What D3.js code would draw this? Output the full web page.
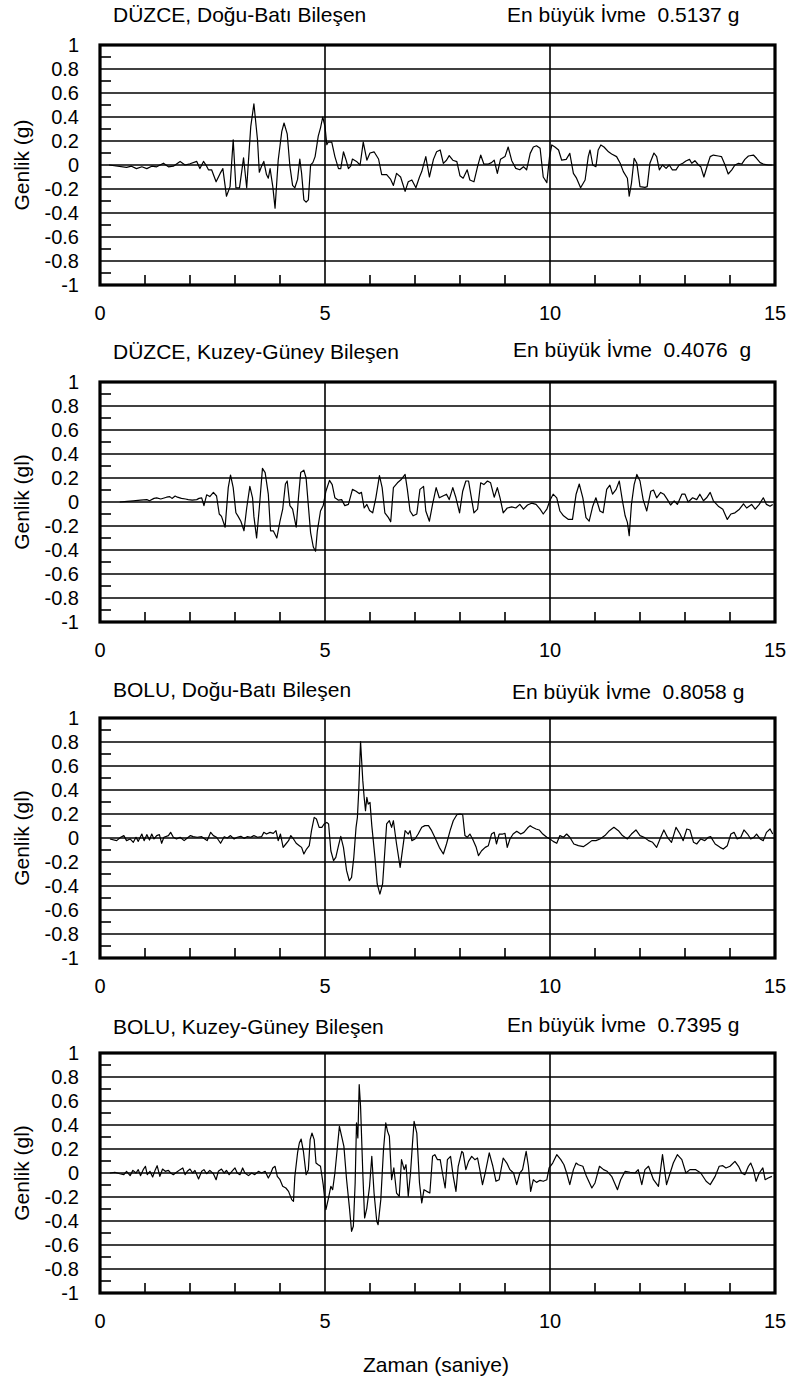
<!DOCTYPE html>
<html>
<head>
<meta charset="utf-8">
<script src="https://cdn.jsdelivr.net/npm/d3@7"></script>
<style>
html,body{margin:0;padding:0;background:#fff;}
svg{display:block;}
text{font-family:"Liberation Sans",Arial,Helvetica,sans-serif;fill:#000;white-space:pre;}
</style>
</head>
<body>
<svg id="chart" width="788" height="1379"></svg>
<script>
// ---------- data ----------
const panelTitles = ["DÜZCE, Doğu-Batı Bileşen","DÜZCE, Kuzey-Güney Bileşen","BOLU, Doğu-Batı Bileşen","BOLU, Kuzey-Güney Bileşen"];
const peakTitles = ["En büyük İvme  0.5137 g","En büyük İvme  0.4076  g","En büyük İvme  0.8058 g","En büyük İvme  0.7395 g"];
const yAxisTitles = ["Genlik (g)","Genlik (gl)","Genlik (gl)","Genlik (gl)"];
const xAxisTitle = "Zaman (saniye)";
const xTickLabels = [0,5,10,15];
const yTickLabels = [1,0.8,0.6,0.4,0.2,0,-0.2,-0.4,-0.6,-0.8,-1];
const xMinorTicks = [1,2,3,4,6,7,8,9,11,12,13,14];
const yMinorTicks = [0.9,0.7,0.5,0.3,0.1,-0.1,-0.3,-0.5,-0.7,-0.9];

// [time (s), acceleration (g)]
const duzceEW = [[0.2,0],[0.59,-0.02],[0.70,-0.01],[0.81,-0.03],[0.93,-0.015],[1.04,-0.03],[1.15,-0.01],[1.26,-0.015],[1.41,0.015],[1.52,-0.015],[1.63,-0.01],[1.78,0.03],[1.89,0],[2.0,0.01],[2.15,0.03],[2.22,-0.03],[2.30,0.03],
[2.37,-0.01],[2.41,-0.04],[2.48,-0.04],[2.58,-0.14],[2.67,-0.07],[2.73,-0.03],[2.81,-0.26],[2.89,-0.18],[2.96,0.21],[3.02,-0.19],[3.10,-0.19],[3.19,0.06],[3.26,-0.19],[3.35,0.32],[3.42,0.51],[3.50,0.21],[3.54,-0.06],[3.59,-0.01],[3.64,0.03],[3.70,-0.08],[3.74,-0.11],[3.78,-0.03],[3.84,-0.18],[3.89,-0.36],[3.96,0.04],[4.04,0.28],[4.09,0.35],[4.16,0.26],[4.22,-0.01],[4.28,-0.17],[4.33,-0.19],[4.39,-0.12],[4.44,0.05],[4.48,-0.07],[4.53,-0.29],[4.58,-0.31],[4.63,-0.29],[4.68,0],[4.73,0.02],[4.78,0.07],[4.85,0.24],[4.90,0.31],[4.95,0.40],[5.00,0.32],[5.04,0.17],[5.07,0.19],[5.15,0.19],[5.22,0.07],[5.30,-0.03],[5.35,-0.03],[5.41,0.11],[5.47,0.04],[5.52,-0.03],[5.57,-0.01],[5.61,0.05],[5.70,0.03],[5.78,0],[5.85,0.19],[5.93,0.04],[6.00,0.10],[6.09,0.11],[6.19,0.05],[6.26,-0.08],[6.37,-0.08],[6.46,-0.12],[6.52,-0.17],[6.59,-0.07],
[6.68,-0.10],[6.78,-0.22],[6.85,-0.14],[6.93,-0.125],[7.02,-0.19],[7.10,-0.10],[7.15,-0.055],[7.24,0.07],[7.32,-0.10],[7.41,0.047],[7.48,0.11],[7.56,0.125],[7.63,0.014],[7.70,0.04],[7.76,0.078],[7.84,0.04],[7.93,0.028],[8.00,-0.09],[8.07,-0.11],[8.16,-0.04],[8.22,-0.125],[8.31,-0.14],[8.39,-0.014],[8.46,0.083],[8.53,0.008],[8.63,0.008],[8.70,0.02],[8.76,0.04],[8.83,-0.07],[8.90,0.047],[9.00,0.07],[9.07,0.15],[9.15,0.036],[9.24,-0.028],[9.33,-0.04],[9.41,-0.014],[9.48,-0.04],[9.56,0.097],[9.63,0.15],[9.70,0.16],[9.78,0.14],[9.85,-0.10],[9.93,-0.147],[9.99,0.07],[10.04,0.167],[10.11,0.15],[10.19,0.125],[10.26,0.04],[10.36,0.047],[10.44,0.097],[10.52,-0.07],[10.59,-0.11],[10.68,-0.19],[10.78,-0.125],[10.85,0.07],[10.89,0.125],[10.95,0],[11.02,-0.014],[11.07,0.125],[11.13,0.167],[11.20,0.15],[11.30,0.11],[11.37,0.092],[11.48,0.07],[11.56,0.014],[11.63,-0.055],[11.72,-0.11],[11.76,-0.26],[11.81,-0.153],[11.87,0.056],[11.93,0.014],[12.00,-0.18],[12.11,-0.186],[12.16,-0.18],[12.22,0.014],[12.31,0.10],[12.37,0.07],[12.43,-0.04],[12.50,0],[12.58,-0.028],[12.65,0],[12.72,-0.04],[12.80,-0.04],[12.87,0],[12.95,0.014],[13.02,0.033],[13.10,0.047],[13.15,0.014],[13.22,0.036],[13.30,0],[13.35,-0.014],[13.42,-0.10],[13.50,0],[13.56,0.07],[13.63,0.083],[13.74,0.075],[13.81,0.07],[13.89,0],[13.96,-0.075],[14.04,-0.04],[14.11,0],[14.19,0.014],[14.26,0.008],[14.33,0.047],[14.41,0.075],[14.52,0.083],[14.59,0.056],[14.67,0.02],[14.74,0.008],[14.85,0],[14.93,0]];

const duzceNS = [[0.44,0],[0.6,0.005],[0.74,0.01],[0.9,0.015],[1.04,0.02],[1.1,0.01],[1.2,0.03],[1.26,0.035],[1.35,0.025],[1.48,0.04],[1.55,0.045],[1.6,0.03],[1.67,0.05],[1.72,0.04],[1.81,0.03],[1.9,0.025],[1.96,0.02],[2.05,0.015],[2.15,0.02],[2.2,0.03],[2.26,0.035],[2.31,-0.03],[2.37,0.06],[2.44,0.045],[2.52,0.08],[2.59,0.05],[2.65,-0.10],[2.70,-0.12],[2.78,-0.21],[2.85,0.12],[2.90,0.225],[2.96,0.12],[3.02,-0.09],[3.07,-0.12],[3.13,-0.16],[3.20,-0.24],[3.26,-0.05],[3.33,0.13],[3.39,0.035],[3.42,-0.12],[3.48,-0.30],[3.54,-0.05],[3.61,0.28],[3.67,0.245],[3.74,0.065],[3.79,-0.24],[3.85,-0.24],[3.93,-0.30],[4.00,-0.16],[4.06,-0.06],[4.12,0.15],[4.16,0.175],[4.22,-0.03],[4.28,-0.06],[4.36,-0.21],[4.41,0.035],[4.46,0.245],[4.53,0.265],[4.58,0.20],[4.63,-0.03],[4.68,-0.255],[4.74,-0.375],[4.79,-0.41],[4.83,-0.24],[4.90,-0.075],[4.96,-0.03],[5.02,0.09],[5.10,0.18],[5.16,0.145],[5.22,0.035],[5.30,0.015],[5.37,0.02],[5.44,-0.03],[5.52,-0.02],[5.61,0.105],[5.69,0.09],[5.76,0.07],[5.81,0.08],[5.87,-0.05],[5.93,-0.02],[5.99,-0.07],[6.06,-0.09],[6.13,0.035],[6.21,0.22],[6.27,0.12],[6.33,-0.09],[6.41,-0.13],[6.46,-0.165],[6.52,0.12],[6.61,0.16],[6.70,0.19],[6.78,0.23],[6.83,0.105],[6.89,-0.075],[6.96,-0.115],[7.04,-0.10],[7.11,0.105],[7.19,0.13],[7.24,-0.075],[7.32,-0.16],[7.39,-0.02],[7.47,0.12],[7.54,0.035],[7.62,0.05],[7.70,0.065],[7.76,0.02],[7.84,0.12],[7.91,0.035],[7.99,-0.09],[8.06,0.09],[8.13,0.175],[8.19,0.175],[8.26,0.02],[8.31,-0.09],[8.39,-0.06],[8.46,0.16],[8.53,0.145],[8.61,0.175],[8.68,0.16],[8.76,0.04],[8.83,0.12],[8.89,0.035],[8.96,-0.09],[9.05,-0.05],[9.15,-0.04],[9.24,-0.05],[9.33,-0.02],[9.41,-0.06],[9.50,-0.025],[9.59,-0.01],[9.69,-0.02],[9.78,-0.06],[9.85,-0.10],[9.93,-0.06],[10.00,0.015],[10.07,0.065],[10.15,0.035],[10.22,-0.075],[10.30,-0.115],[10.41,-0.145],[10.50,-0.145],[10.58,0.065],[10.65,0.15],[10.73,0.035],[10.80,-0.13],[10.87,-0.16],[10.95,-0.035],[11.02,0.035],[11.11,-0.075],[11.18,-0.09],[11.26,0.105],[11.33,0.14],[11.39,0.065],[11.47,0.105],[11.54,0.175],[11.61,0.01],[11.67,-0.115],[11.72,-0.17],[11.76,-0.28],[11.81,-0.02],[11.87,0.145],[11.93,0.23],[12.00,0.175],[12.07,0.02],[12.15,-0.075],[12.24,0.09],[12.30,0.10],[12.37,0.035],[12.46,0.08],[12.53,0.065],[12.61,0.02],[12.68,-0.025],[12.76,0.01],[12.83,-0.02],[12.93,0.065],[13.00,0.065],[13.07,0],[13.17,0.035],[13.26,0.02],[13.33,0.065],[13.41,0.01],[13.48,0.035],[13.56,0.08],[13.63,0.01],[13.74,-0.035],[13.84,-0.06],[13.94,-0.145],[14.02,-0.10],[14.11,-0.09],[14.21,-0.06],[14.30,-0.015],[14.37,-0.05],[14.48,-0.02],[14.56,-0.06],[14.65,-0.02],[14.74,0.035],[14.81,-0.02],[14.89,-0.035],[14.95,-0.02]];

const boluEW = [[0.22,-0.008],[0.37,-0.022],[0.46,0.006],[0.53,0.02],[0.59,-0.022],[0.67,-0.008],[0.74,-0.036],[0.80,0.006],[0.85,-0.028],[0.93,0.033],[0.98,-0.022],[1.04,0.028],[1.10,-0.017],[1.15,0.033],[1.20,-0.008],[1.26,0.02],[1.32,0.028],[1.37,-0.044],[1.42,0.006],[1.52,0.02],[1.57,0.047],[1.63,0.006],[1.70,-0.008],[1.78,0.006],[1.87,-0.022],[1.94,0],[2.01,0.02],[2.07,0.011],[2.16,0.006],[2.26,0.011],[2.33,-0.008],[2.38,-0.022],[2.46,0.047],[2.52,0.02],[2.59,0.006],[2.68,-0.044],[2.76,0.011],[2.83,0],[2.90,0.02],[2.98,-0.008],[3.05,0.006],[3.13,0.014],[3.20,-0.003],[3.27,0.011],[3.35,0.006],[3.42,0.02],[3.50,0.006],[3.59,0.011],[3.64,0.047],[3.70,0.033],[3.78,0.047],[3.85,0.039],[3.91,0.061],[3.96,-0.022],[4.01,0.033],[4.07,-0.078],[4.13,-0.05],[4.19,-0.022],[4.24,0.02],[4.30,-0.008],[4.36,-0.044],[4.43,-0.064],[4.48,-0.078],[4.53,-0.133],[4.59,-0.092],[4.65,-0.064],[4.70,0.061],[4.76,0.172],[4.81,0.158],[4.87,0.089],[4.93,0.089],[4.98,0.117],[5.04,0.13],[5.08,0.117],[5.13,-0.106],[5.19,-0.189],[5.24,-0.161],[5.30,-0.064],[5.35,0.014],[5.41,-0.078],[5.48,-0.272],[5.54,-0.356],[5.59,-0.328],[5.64,-0.161],[5.69,0.089],[5.72,0.172],[5.75,0.394],[5.79,0.803],[5.84,0.478],[5.87,0.339],[5.90,0.228],[5.93,0.339],[5.96,0.283],[6.00,0.297],[6.04,0.103],[6.11,-0.161],[6.16,-0.383],[6.22,-0.467],[6.28,-0.383],[6.33,-0.106],[6.37,0.117],[6.43,0.144],[6.48,0.089],[6.52,0.144],[6.59,-0.05],[6.67,-0.245],
[6.78,0.061],[6.85,0.033],[6.89,0.061],[6.93,-0.022],[7.00,-0.008],[7.07,0.033],[7.15,0.089],[7.22,0.103],[7.30,0.103],[7.37,0.061],[7.44,0.006],[7.54,-0.078],[7.63,-0.133],[7.70,-0.05],[7.78,0.061],[7.85,0.144],[7.93,0.194],[8.00,0.2],[8.06,0.194],[8.11,0.02],[8.16,0.006],[8.22,0.033],[8.28,-0.008],[8.36,-0.078],[8.41,-0.147],[8.48,-0.106],[8.56,-0.078],[8.63,-0.064],[8.70,0.033],[8.76,0.047],[8.81,-0.05],[8.87,0.033],[8.95,0.033],[9.00,0.039],[9.05,-0.078],[9.11,-0.008],[9.18,0.033],[9.26,0.056],[9.35,0.033],[9.42,0.047],[9.50,0.083],[9.56,0.103],[9.61,0.089],[9.69,0.075],[9.76,0.067],[9.84,0.033],[9.93,0.006],[10.00,-0.008],[10.07,-0.028],[10.15,-0.044],[10.22,0.02],[10.30,0.006],[10.37,0.033],[10.44,0.006],[10.53,-0.05],[10.63,-0.064],[10.74,-0.072],[10.83,-0.05],[10.93,-0.022],[11.02,-0.022],[11.11,-0.008],[11.22,0.02],[11.32,0.061],[11.42,0.089],[11.52,0.061],[11.61,0.02],[11.72,-0.008],[11.81,0.033],[11.91,0.067],[12.00,0.02],[12.09,0.006],[12.19,-0.022],[12.28,-0.036],[12.37,-0.078],[12.46,0.006],[12.53,0.067],[12.61,0.006],[12.70,-0.036],[12.80,0.089],[12.89,0.033],[12.96,-0.022],[13.04,0.075],[13.11,0.067],[13.19,-0.036],[13.26,-0.05],[13.35,-0.008],[13.44,-0.022],[13.52,0.006],[13.57,0.011],[13.67,-0.05],[13.78,-0.078],[13.85,-0.092],[13.94,-0.064],[14.02,0.033],[14.09,0.047],[14.16,-0.008],[14.24,0.006],[14.31,0.067],[14.39,0.033],[14.46,-0.008],[14.53,0.006],[14.59,0.033],[14.67,-0.008],[14.74,-0.022],[14.81,0.047],[14.89,0.075],[14.95,0.033]];

const boluNS = [[0.22,0],[0.33,0.006],[0.44,-0.006],[0.53,-0.014],[0.59,0.014],[0.67,-0.022],[0.73,0.022],[0.80,0],[0.85,0.028],[0.90,-0.022],[0.96,0.028],[1.01,0.056],[1.05,-0.014],[1.11,0.014],[1.17,-0.033],[1.23,0.028],[1.27,0.061],[1.33,-0.028],[1.39,0.033],[1.45,0.014],[1.52,0.022],[1.57,0],[1.63,-0.014],[1.70,0.006],[1.78,0.028],[1.84,0.042],[1.89,-0.014],[1.94,0.014],[2.00,0.033],[2.06,0],[2.11,0.022],[2.19,-0.05],[2.26,0.014],[2.31,0.028],[2.37,-0.006],[2.44,0.022],[2.52,-0.006],[2.58,-0.056],[2.63,0.014],[2.70,0.033],[2.76,0],[2.81,0.022],[2.87,-0.014],[2.95,0.022],[3.00,0.042],[3.05,0],[3.11,-0.014],[3.17,0.042],[3.22,0],[3.30,-0.022],[3.37,0],[3.44,-0.014],[3.52,0.014],[3.59,0],[3.67,0.014],[3.74,-0.042],[3.79,-0.006],[3.84,0.042],[3.89,0.056],[3.94,-0.028],[4.0,-0.056],[4.06,-0.111],[4.13,-0.125],[4.19,-0.153],[4.26,-0.222],[4.30,-0.236],[4.33,-0.028],[4.39,0.167],[4.43,0.25],[4.47,0.283],[4.52,0.181],[4.58,-0.014],[4.63,0.028],[4.67,0.278],[4.71,0.333],[4.76,0.278],[4.80,0.083],[4.85,0.069],[4.90,0.056],[4.96,-0.097],[5.02,-0.306],[5.07,-0.222],[5.13,-0.111],[5.17,-0.139],[5.22,0],[5.27,0.194],[5.32,0.389],[5.37,0.306],[5.42,0.222],[5.48,-0.056],[5.54,-0.278],[5.59,-0.486],[5.63,-0.444],[5.67,-0.083],[5.70,0.417],[5.73,0.292],[5.76,0.736],[5.79,0.556],[5.84,0],[5.88,-0.375],[5.93,-0.292],[5.99,-0.111],[6.04,0.139],[6.09,-0.167],[6.15,-0.403],[6.18,-0.431],[6.24,-0.222],[6.30,0.194],[6.35,0.417],[6.39,0.347],[6.43,0.306],[6.48,-0.056],[6.53,0.042],[6.59,-0.167],[6.65,-0.194],
[6.70,0.111],[6.76,0.028],[6.80,0.069],[6.85,-0.194],[6.90,0],[6.95,0.278],[6.98,0.431],[7.04,0.333],[7.10,-0.083],[7.15,-0.25],[7.20,-0.139],[7.26,-0.153],[7.33,-0.167],[7.39,0.139],[7.44,0.153],[7.50,0.111],[7.56,0.111],[7.61,0],[7.67,-0.125],[7.72,0.111],[7.79,0.139],[7.85,-0.028],[7.91,-0.153],[7.96,0.056],[8.04,0.181],[8.07,0.167],[8.13,0.028],[8.19,0.097],[8.26,0.139],[8.33,0.111],[8.39,0.125],[8.44,0.028],[8.50,-0.097],[8.56,0],[8.65,0.167],[8.73,0.056],[8.80,-0.069],[8.87,-0.056],[8.96,0.125],[9.04,0.083],[9.11,0.028],[9.19,0],[9.26,-0.097],[9.33,0],[9.39,0.028],[9.47,0.181],[9.52,0.056],[9.57,-0.153],[9.63,-0.056],[9.70,-0.078],[9.78,-0.061],[9.85,-0.069],[9.93,-0.056],[9.98,0.042],[10.06,0.083],[10.15,0.153],[10.24,0.111],[10.31,0.069],[10.37,0],[10.44,-0.097],[10.52,0.028],[10.58,0.083],[10.63,0.069],[10.73,0.056],[10.81,-0.028],[10.93,-0.125],[11.00,-0.083],[11.10,0.056],[11.19,0.028],[11.27,0.014],[11.37,-0.028],[11.50,-0.139],[11.57,-0.056],[11.67,0.014],[11.78,0.006],[11.89,0],[11.96,0.028],[12.04,-0.097],[12.11,0.028],[12.19,0.056],[12.30,-0.056],[12.41,-0.111],[12.50,0.153],[12.59,-0.097],[12.67,0],[12.74,0.083],[12.83,0.153],[12.93,0.111],[13.02,0],[13.11,0.028],[13.24,0.028],[13.35,0],[13.47,-0.069],[13.56,-0.097],[13.67,-0.028],[13.76,0.056],[13.84,0.061],[13.91,0.042],[14.0,0.056],[14.11,0.097],[14.19,0.056],[14.26,0],[14.33,-0.014],[14.41,0.056],[14.46,0.083],[14.52,0.028],[14.58,-0.069],[14.65,0],[14.73,0.042],[14.78,-0.056],[14.85,-0.042],[14.93,-0.028]];

const seriesList = [duzceEW, duzceNS, boluEW, boluNS];

// ---------- layout ----------
const plotLeft = 100, plotRight = 775, plotH = 240;
const plotTops = [45, 382, 718, 1053];
const titleBase = [22, 359, 697, 1034];
const peakBase = [22, 357, 699, 1032];
const peakX = [507, 513, 512, 507];

const svg = d3.select("#chart");
const x = d3.scaleLinear().domain([0,15]).range([plotLeft, plotRight]);

seriesList.forEach((data, i) => {
  const top = plotTops[i];
  const y = d3.scaleLinear().domain([-1,1]).range([top + plotH, top]);
  const g = svg.append("g");

  // horizontal grid lines
  g.selectAll("line.hg").data(yTickLabels.filter(v => v !== 1 && v !== -1)).enter()
    .append("line").attr("x1", plotLeft).attr("x2", plotRight)
    .attr("y1", d => y(d)).attr("y2", d => y(d))
    .attr("stroke", "#000").attr("stroke-width", 1.6);
  // vertical grid lines
  g.selectAll("line.vg").data([5,10]).enter()
    .append("line").attr("y1", top).attr("y2", top + plotH)
    .attr("x1", d => x(d)).attr("x2", d => x(d))
    .attr("stroke", "#000").attr("stroke-width", 1.6);
  // minor ticks
  g.selectAll("line.ym").data(yMinorTicks).enter()
    .append("line").attr("x1", plotLeft).attr("x2", plotLeft + 11)
    .attr("y1", d => y(d)).attr("y2", d => y(d))
    .attr("stroke", "#000").attr("stroke-width", 1.6);
  g.selectAll("line.xm").data(xMinorTicks).enter()
    .append("line").attr("y1", top + plotH).attr("y2", top + plotH - 10)
    .attr("x1", d => x(d)).attr("x2", d => x(d))
    .attr("stroke", "#000").attr("stroke-width", 1.6);

  // signal
  const line = d3.line().x(d => x(d[0])).y(d => y(d[1]));
  g.append("path").datum(data).attr("d", line)
    .attr("fill", "none").attr("stroke", "#000").attr("stroke-width", 1.2)
    .attr("stroke-linejoin", "round");

  // frame
  g.append("rect").attr("x", plotLeft).attr("y", top)
    .attr("width", plotRight - plotLeft).attr("height", plotH)
    .attr("fill", "none").attr("stroke", "#000").attr("stroke-width", 3.2);

  // y tick labels
  g.selectAll("text.yl").data(yTickLabels).enter()
    .append("text").attr("x", 79).attr("y", d => y(d) + 7)
    .attr("text-anchor", "end").attr("font-size", 20)
    .text(d => String(d));
  // x tick labels
  g.selectAll("text.xl").data(xTickLabels).enter()
    .append("text").attr("x", d => x(d)).attr("y", top + plotH + 35)
    .attr("text-anchor", "middle").attr("font-size", 20)
    .text(d => String(d));

  // y axis title
  g.append("text")
    .attr("transform", `translate(29,${top + plotH/2}) rotate(-90)`)
    .attr("text-anchor", "middle").attr("font-size", 21)
    .text(yAxisTitles[i]);

  // titles
  g.append("text").attr("x", 113).attr("y", titleBase[i])
    .attr("font-size", 21).text(panelTitles[i]);
  g.append("text").attr("x", peakX[i]).attr("y", peakBase[i])
    .attr("font-size", 21).text(peakTitles[i]);
});

svg.append("text").attr("x", 436).attr("y", 1372)
  .attr("text-anchor", "middle").attr("font-size", 21).text(xAxisTitle);
</script>
</body>
</html>
